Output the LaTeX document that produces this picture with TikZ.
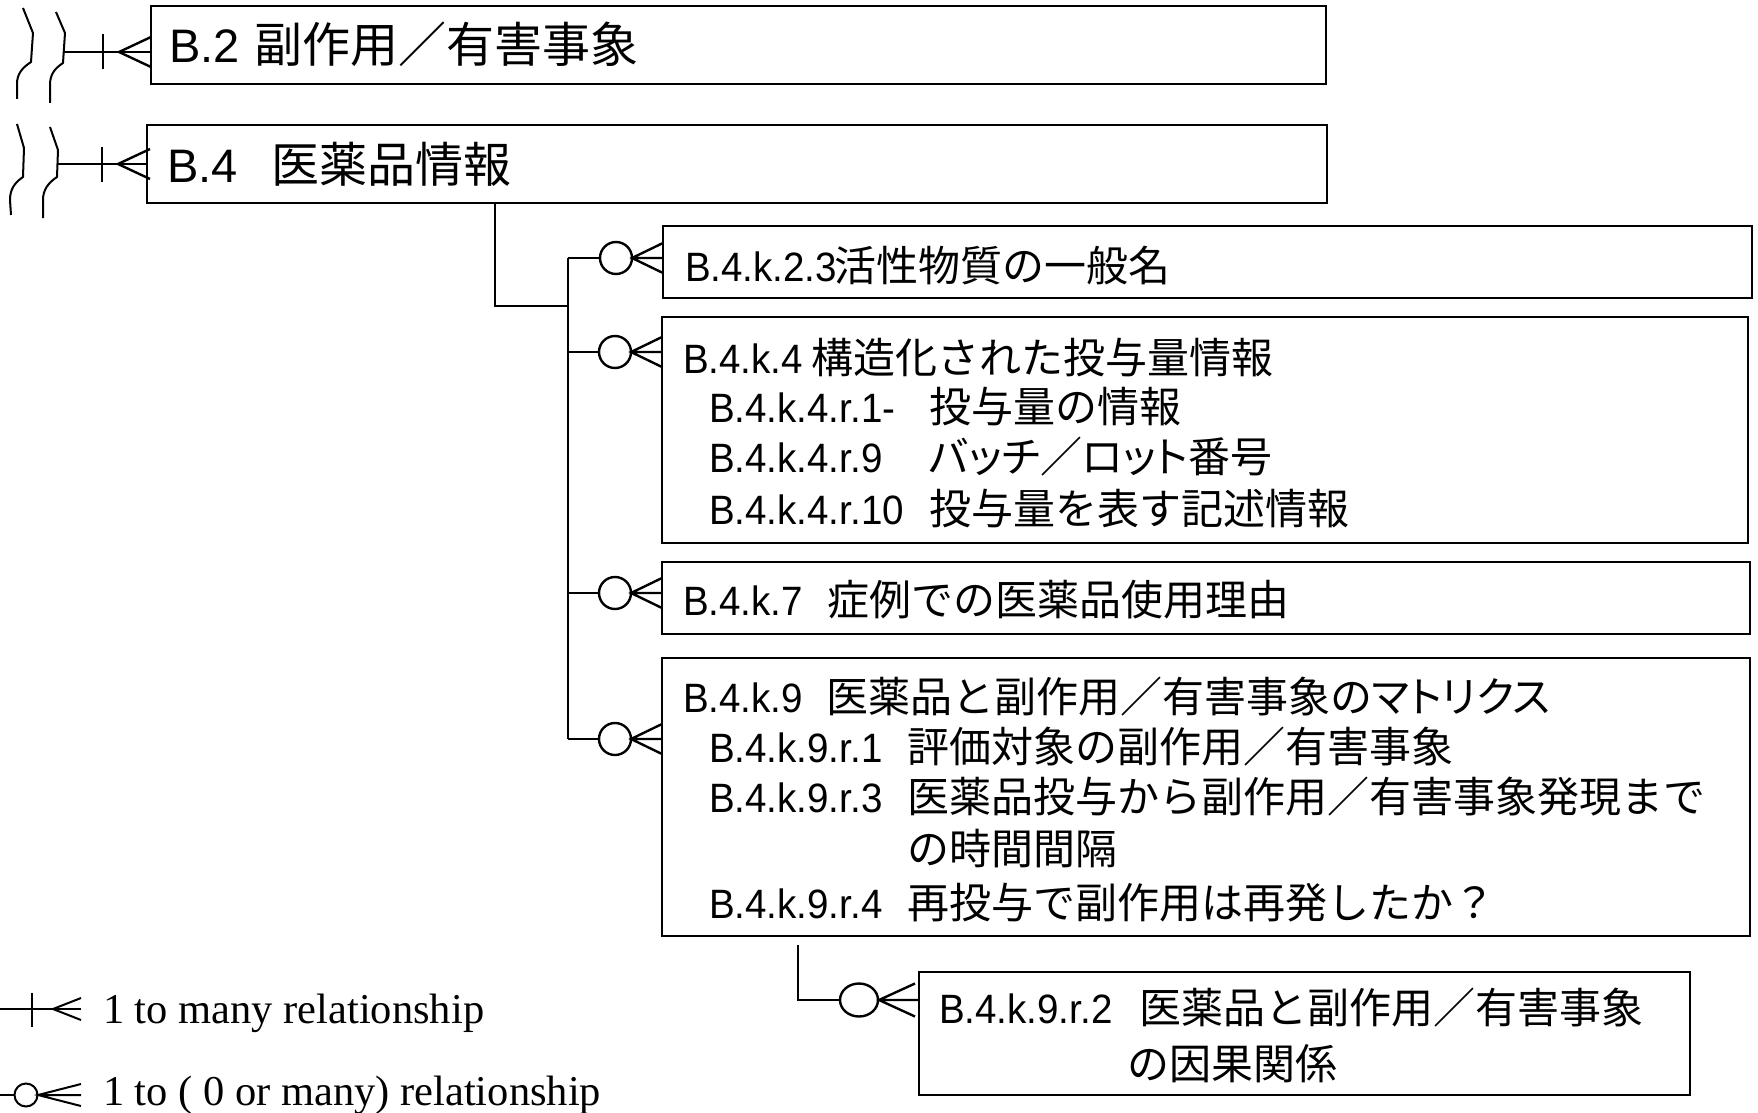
\documentclass[tikz,border=0pt]{standalone}
\usepackage{fontspec}
\newfontfamily\jpf{Noto Sans CJK JP}
\newfontfamily\jpk[RawFeature=+palt]{Noto Sans CJK JP}
\newfontfamily\latf{Liberation Sans}
\newfontfamily\latn[FakeStretch=0.94]{Liberation Sans}
\newfontfamily\serf{Liberation Serif}
\newcommand\TopL[1]{{\latf\fontsize{47}{52}\selectfont #1}}
\newcommand\TopJ[1]{{\jpf\fontsize{48}{52}\selectfont #1}}
\newcommand\SubL[1]{{\latn\fontsize{41}{46}\selectfont #1}}
\newcommand\SubJ[1]{{\jpf\fontsize{42}{48}\selectfont #1}}
\newcommand\KT[1]{{\jpk #1}}
\newcommand\TopRow[3]{\makebox[#1pt][l]{\TopL{#2}}\TopJ{#3}}
\newcommand\SubRow[3]{\makebox[#1pt][l]{\SubL{#2}}\SubJ{#3}}
\begin{document}
\begin{tikzpicture}[x=1pt,y=-1pt,
  box/.style={draw, rectangle, line width=2.4pt, inner sep=0pt, outer sep=0pt, anchor=north west},
  txt/.style={anchor=base west, inner sep=0pt, outer sep=0pt},
  conn/.style={line width=2.4pt},
  thinl/.style={line width=2pt},
  squig/.style={line width=2pt},
  legtext/.style={txt, font=\serf\fontsize{42.5}{46}\selectfont},
  pics/onemany/.style={code={
    \draw[conn] (-48,-17.5) -- (-48,17.5);
    \draw[conn] (0,-15) -- (-32,0) -- (0,15);
  }},
  pics/omany/.style={code={
    \draw[conn] (-47,0) circle[radius=16];
    \draw[conn] (0,-15) -- (-31,0) -- (0,15) (-31,0) -- (0,0);
  }}
]
\useasboundingbox (0,0) rectangle (1758,1113);

% ---------- boxes ----------
\node[box, minimum width=1175pt, minimum height=78pt] (b2) at (151,6) {};
\node[box, minimum width=1180pt, minimum height=78pt] (b4) at (147,125) {};
\node[box, minimum width=1089pt, minimum height=72pt] (k23) at (663,226) {};
\node[box, minimum width=1086pt, minimum height=226pt] (k4) at (662,317) {};
\node[box, minimum width=1088pt, minimum height=72pt] (k7) at (662,562) {};
\node[box, minimum width=1088pt, minimum height=278pt] (k9) at (662,658) {};
\node[box, minimum width=771pt, minimum height=123pt] (r2) at (919,972) {};

% ---------- texts ----------
\node[txt] (b2t) at (169,63) {\TopRow{85}{B.2}{副作用／有害事象}};
\node[txt] (b4t) at (167,182) {\TopRow{104}{B.4}{医薬品情報}};

\node[txt] (k23t) at (685,281) {\SubRow{149}{B.4.k.2.3}{活性物質の一般名}};

\node[txt] (k4a) at (683,373) {\SubRow{128}{B.4.k.4}{構造化された投与量情報}};
\node[txt] (k4b) at (709,422) {\SubRow{220}{B.4.k.4.r.1-}{投与量の情報}};
\node[txt] (k4c) at (709,472) {\SubRow{220}{B.4.k.4.r.9}{\KT{バッチ}／\KT{ロット}番号}};
\node[txt] (k4d) at (709,524) {\SubRow{220}{B.4.k.4.r.10}{投与量を表す記述情報}};

\node[txt] (k7t) at (683,615) {\SubRow{144}{B.4.k.7}{症例での医薬品使用理由}};

\node[txt] (k9a) at (683,712) {\SubRow{143}{B.4.k.9}{医薬品と副作用／有害事象の\KT{マトリクス}}};
\node[txt] (k9b) at (709,762) {\SubRow{198}{B.4.k.9.r.1}{評価対象の副作用／有害事象}};
\node[txt] (k9c) at (709,812) {\SubRow{198}{B.4.k.9.r.3}{医薬品投与から副作用／有害事象発現まで}};
\node[txt] (k9d) at (907,864) {\SubJ{の時間間隔}};
\node[txt] (k9e) at (709,918) {\SubRow{198}{B.4.k.9.r.4}{再投与で副作用は再発したか？}};

\node[txt] (r2a) at (939,1023) {\SubRow{200}{B.4.k.9.r.2}{医薬品と副作用／有害事象}};
\node[txt] (r2b) at (1127,1079) {\SubJ{の因果関係}};

% ---------- broken-off links to B.2 and B.4 ----------
\draw[squig] (23,8) -- (33,33) -- (31,62) .. controls (22,68) and (17,74) .. (17,84) -- (17,99);
\draw[squig] (56,12) -- (65,33) -- (63,63) .. controls (54,69) and (50,75) .. (50,85) -- (50,103);
\draw[squig] (17,124) -- (24,148) -- (23,177) .. controls (14,183) and (10,190) .. (10,200) -- (11,215);
\draw[squig] (50,127) -- (58,150) -- (57,177) .. controls (48,183) and (43,190) .. (43,200) -- (43,218);

\coordinate (s1) at (64,52);
\coordinate (s2) at (58,164);
\draw[conn] (s1) -- (b2.west |- s1);
\draw[conn] (s2) -- (b4.west |- s2);
\pic at (151,52) {onemany};
\pic at (150,164) {onemany};

% ---------- B.4 to its children ----------
\coordinate (v0) at (495,306);
\coordinate (tj) at (568,306);
\coordinate (t1) at (568,258);
\coordinate (t2) at (568,352);
\coordinate (t3) at (568,593);
\coordinate (t4) at (568,739);
\draw[conn] (b4.south -| v0) |- (tj);
\draw[conn] (t1) -- (t4);
\draw[conn] (t1) -- ++(32,0);
\draw[conn] (t2) -- ++(32,0);
\draw[conn] (t3) -- ++(32,0);
\draw[conn] (t4) -- ++(32,0);
\pic at (k23.west |- t1) {omany};
\pic at (k4.west |- t2) {omany};
\pic at (k7.west |- t3) {omany};
\pic at (k9.west |- t4) {omany};

% ---------- B.4.k.9 to B.4.k.9.r.2 ----------
\coordinate (h0) at (798,945);
\coordinate (h1) at (840,1000);
\draw[conn] (h0) |- (h1);
\draw[conn] (859,1000) ellipse[x radius=19, y radius=16.5];
\draw[conn] (915,983.5) -- (879,1000) -- (915,1016.5) (879,1000) -- (r2.west |- h1);

% ---------- legend ----------
\draw[thinl] (0,1009) -- (81,1009);
\draw[thinl] (32,993) -- (32,1027);
\draw[thinl] (81,998) -- (53,1009) -- (81,1020);
\node[legtext] (lg1) at (103,1023) {1 to many relationship};

\draw[thinl] (0,1095) -- (14.5,1095);
\draw[thinl] (26,1095) circle[radius=11.5];
\draw[thinl] (81,1084) -- (38,1095) -- (81,1106) (38,1095) -- (81,1095);
\node[legtext] (lg2) at (103,1105) {1 to ( 0 or many) relationship};
\end{tikzpicture}
\end{document}
